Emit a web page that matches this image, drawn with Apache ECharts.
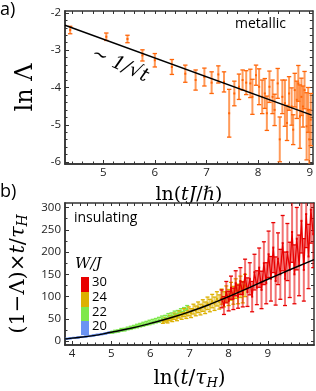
<!DOCTYPE html>
<html><head><meta charset="utf-8">
<script src="https://cdn.jsdelivr.net/npm/echarts@6/dist/echarts.min.js"></script>
<style>html,body{margin:0;padding:0;background:#fff}#c{width:316px;height:391px}</style>
</head><body><div id="c"></div>
<script>
// ---- Panel a (metallic) ----
const aX = [4.36,5.06,5.47,5.76,6.00,6.33,6.59,6.79,6.96,7.10,7.23,7.34,7.44,7.54,7.63,7.70,7.77,7.85,7.89,7.96,8.02,8.08,8.13,8.17,8.22,8.28,8.32,8.38,8.42,8.47,8.52,8.56,8.60,8.65,8.68,8.71,8.75,8.78,8.81,8.84,8.87,8.90,8.94,8.97,8.99,9.02];
const aY = [-2.46,-2.64,-2.70,-3.14,-3.27,-3.45,-3.63,-3.80,-3.72,-3.87,-3.65,-3.85,-4.69,-4.16,-3.98,-3.80,-3.87,-3.89,-4.25,-3.67,-3.98,-4.25,-4.16,-4.69,-3.98,-4.25,-4.60,-3.89,-5.39,-4.25,-4.42,-4.95,-4.16,-4.51,-5.13,-4.07,-4.33,-3.89,-4.78,-4.25,-4.51,-4.07,-5.04,-4.60,-5.39,-4.86];
const aErr = [0.10,0.10,0.10,0.15,0.18,0.20,0.23,0.27,0.24,0.29,0.23,0.27,0.64,0.33,0.34,0.27,0.32,0.38,0.47,0.27,0.48,0.45,0.40,0.46,0.42,0.45,0.42,0.40,0.60,0.45,0.62,0.47,0.45,0.50,0.40,0.45,0.50,0.48,0.85,0.50,0.55,0.50,0.90,0.60,0.80,0.70];
const aFitX = [4.26, 9.04];
const aFitY = [-2.33, -4.74];
const aXTicks = [5,6,7,8,9];
const aYTicks = [-6,-5,-4,-3,-2];

// ---- Panel b (insulating) ----
const b20X = [3.85,3.95,4.05,4.15,4.25,4.35,4.45,4.55,4.65,4.75,4.85,4.95,5.05,5.15,5.25,5.35];
const b20Y = [5.3,6.4,7.4,8.4,9.5,10.6,11.7,13,14.4,15.8,17.2,19,20.6,22.3,24.2,26];
const b20E = [1,1,1,1,1,1.2,1.2,1.2,1.3,1.3,1.4,1.4,1.5,1.5,1.6,1.6];
const b22X = [5.02,5.10,5.18,5.26,5.34,5.42,5.50,5.58,5.66,5.74,5.82,5.90,5.98,6.06,6.14,6.22,6.30,6.38,6.46,6.54,6.62,6.70,6.78,6.86,6.94];
const b22Y = [20,22,23,25.5,26,28.5,30,32,34,36,38,40,42,44,46,48,51,52,56,57,61,62,66,68,72];
const b22E = [2,2.5,2.5,3,3,3,3.5,3.5,4,4,4.5,4.5,5,5,5,5.5,5.5,6,6,6.5,6.5,7,7,7.5,8];
const b24X = [6.32,6.38,6.44,6.50,6.56,6.62,6.68,6.74,6.80,6.86,6.92,6.98,7.04,7.10,7.16,7.22,7.28,7.34,7.40,7.46,7.52,7.58,7.64,7.70,7.76,7.82,7.88,7.94,8.00,8.06,8.12,8.18,8.24,8.30,8.36,8.42];
const b24Y = [44,48,46,52,50,56,53,60,57,64,60,67,63,72,68,76,71,80,75,85,80,90,84,95,88,100,94,106,98,112,103,118,106,122,110,125];
const b24E = [4,5,5,6,6,7,7,8,8,9,9,10,10,11,11,12,12,13,13,14,14,15,15,16,16,17,17,18,18,20,20,22,22,24,24,25];
const b30X = [7.82,7.88,7.94,8.00,8.06,8.12,8.18,8.24,8.30,8.36,8.42,8.48,8.54,8.60,8.66,8.72,8.78,8.84,8.90,8.96,9.02,9.08,9.14,9.20,9.26,9.32,9.38,9.44,9.50,9.56,9.62,9.68,9.74,9.80,9.86,9.92,9.98,10.04,10.10,10.16];
const b30Y = [95,80,110,90,120,95,130,100,135,105,150,110,140,100,155,120,165,115,175,130,195,140,210,135,185,150,220,140,200,160,245,150,230,170,270,160,285,190,295,240];
const b30E = [20,20,24,22,26,24,28,26,30,28,34,32,36,34,40,38,44,42,48,46,52,50,56,54,58,56,62,60,64,62,68,66,70,68,72,70,75,72,75,75];
const bFitX = [3.82,4.0,4.5,5.0,5.5,6.0,6.5,7.0,7.5,8.0,8.5,9.0,9.5,10.18];
const bFitY = [5,7,12,20,29,40,52,66,82,100,119,139,158,183];
const bXTicks = [4,5,6,7,8,9];
const bYTicks = [0,50,100,150,200,250,300];
const legendLabels = ['30','24','22','20'];
const legendColors = ['#e80000','#dcb000','#7ee84a','#6b93f2'];

const aXMinor=[], aYMinor=[], bXMinor=[], bYMinor=[];
for (let v=4.4; v<=9.05; v+=0.2) aXMinor.push(+v.toFixed(2));
for (let v=-6; v<=-1.99; v+=0.2) aYMinor.push(+v.toFixed(2));
for (let v=3.8; v<=10.2; v+=0.2) bXMinor.push(+v.toFixed(2));
for (let v=0; v<=310; v+=25) bYMinor.push(v);

const zip3 = (x,y,e)=>x.map((v,i)=>[v,y[i],e[i]]);
const zip2 = (x,y)=>x.map((v,i)=>[v,y[i]]);

function errRender(barColor, capColor, capW, barW){
  return function(params, api){
    const x=api.value(0), y=api.value(1), e=api.value(2);
    const p=api.coord([x,y]), lo=api.coord([x,y-e]), hi=api.coord([x,y+e]);
    return {type:'group', children:[
      {type:'line', shape:{x1:p[0],y1:lo[1],x2:p[0],y2:hi[1]}, style:{stroke:barColor, lineWidth:barW}},
      {type:'line', shape:{x1:p[0]-capW,y1:lo[1],x2:p[0]+capW,y2:lo[1]}, style:{stroke:capColor,lineWidth:1.3}},
      {type:'line', shape:{x1:p[0]-capW,y1:hi[1],x2:p[0]+capW,y2:hi[1]}, style:{stroke:capColor,lineWidth:1.3}},
      {type:'rect', shape:{x:p[0]-1, y:p[1]-1, width:2, height:2}, style:{fill:capColor}}
    ]};
  };
}

const frameColor = '#333';
const tickFont = {fontFamily:'Open Sans', fontSize:11.5, color:'#222'};
const serif = 'DejaVu Serif';

function mkX(grid, pos, min, max, labels, ticks, len, showLabel, name, rich, gap){
  return {type:'value', gridIndex:grid, position:pos, min, max,
    axisLine:{show:true, onZero:false, lineStyle:{color:frameColor, width:1.5}},
    axisTick:{show:true, inside:true, length:len, customValues:ticks, lineStyle:{color:frameColor, width:1}},
    axisLabel:{show:showLabel, customValues:labels, margin:3, ...tickFont},
    splitLine:{show:false},
    name: name||'', nameLocation:'middle', nameGap:gap||22, nameTextStyle:{rich:rich||{}}};
}
function mkY(grid, pos, min, max, labels, ticks, len, showLabel, name, rich, gap){
  return {type:'value', gridIndex:grid, position:pos, min, max,
    axisLine:{show:true, onZero:false, lineStyle:{color:frameColor, width:1.5}},
    axisTick:{show:true, inside:true, length:len, customValues:ticks, lineStyle:{color:frameColor, width:1}},
    axisLabel:{show:showLabel, customValues:labels, margin:4, ...tickFont},
    splitLine:{show:false},
    name: name||'', nameLocation:'middle', nameGap:gap||30, nameRotate:90, nameTextStyle:{rich:rich||{}}};
}

const richA = {r:{fontFamily:serif, fontSize:19, color:'#000'}, i:{fontFamily:serif, fontStyle:'italic', fontSize:19, color:'#000'}};
const richBx = {r:{fontFamily:serif, fontSize:20, color:'#000'}, i:{fontFamily:serif, fontStyle:'italic', fontSize:20, color:'#000'}, s:{fontFamily:serif, fontStyle:'italic', fontSize:13, color:'#000', padding:[9,0,0,0]}};
const richBy = {r:{fontFamily:serif, fontSize:21, color:'#000'}, i:{fontFamily:serif, fontStyle:'italic', fontSize:21, color:'#000'}, s:{fontFamily:serif, fontStyle:'italic', fontSize:14, color:'#000', padding:[9,0,0,0]}};
const richLnL = {r:{fontFamily:serif, fontSize:24, color:'#000'}};

const chart = echarts.init(document.getElementById('c'), null, {renderer:'canvas'});
const aXmin=4.26, aXmax=9.06, aYmin=-6.05, aYmax=-1.95;
const bXmin=3.82, bXmax=10.18, bYmin=-8.5, bYmax=310;

chart.setOption({
  animation:false,
  grid:[
    {left:65, top:11, width:248, height:153},
    {left:65, top:203, width:249, height:150}
  ],
  xAxis:[
    mkX(0,'bottom',aXmin,aXmax,aXTicks,aXTicks,4,true,'{r|ln(}{i|tJ}{r|/}{i|ℏ}{r|)}',richA),
    mkX(0,'top',aXmin,aXmax,[],aXMinor,3,false),
    mkX(0,'bottom',aXmin,aXmax,[],aXMinor,2.5,false),
    mkX(1,'bottom',bXmin,bXmax,bXTicks,bXTicks,4,true,'{r|ln(}{i|t}{r|/}{i|τ}{s|H}{r|)}',richBx,23),
    mkX(1,'top',bXmin,bXmax,[],bXMinor,3,false),
    mkX(1,'bottom',bXmin,bXmax,[],bXMinor,2.5,false)
  ],
  yAxis:[
    mkY(0,'left',aYmin,aYmax,aYTicks,aYTicks,4,true,'{r|ln Λ}',richLnL,27),
    mkY(0,'right',aYmin,aYmax,[],aYMinor,3,false),
    mkY(0,'left',aYmin,aYmax,[],aYMinor,2.5,false),
    mkY(1,'left',bYmin,bYmax,bYTicks,bYTicks,4,true,'{r|(1−Λ)×}{i|t}{r|/}{i|τ}{s|H}',richBy,29),
    mkY(1,'right',bYmin,bYmax,[],bYMinor,3,false),
    mkY(1,'left',bYmin,bYmax,[],bYMinor,2.5,false)
  ],
  series:[
    {type:'custom', xAxisIndex:0, yAxisIndex:0, clip:true, z:2,
     renderItem: errRender('rgba(255,115,25,0.72)','#ff6508',2.2,2),
     encode:{x:0,y:1}, data: zip3(aX,aY,aErr)},
    {type:'line', xAxisIndex:0, yAxisIndex:0, symbol:'none', z:5,
     lineStyle:{color:'#000', width:1.5}, data: zip2(aFitX,aFitY)},

    {type:'line', xAxisIndex:3, yAxisIndex:3, symbol:'none', z:2, lineStyle:{color:legendColors[3], width:1.5}, data: zip2(b20X,b20Y)},
    {type:'custom', xAxisIndex:3, yAxisIndex:3, clip:true, z:2, renderItem: errRender('rgba(107,147,242,0.6)',legendColors[3],2,2), encode:{x:0,y:1}, data: zip3(b20X,b20Y,b20E)},
    {type:'line', xAxisIndex:3, yAxisIndex:3, symbol:'none', z:3, lineStyle:{color:legendColors[2], width:1.2}, data: zip2(b22X,b22Y)},
    {type:'custom', xAxisIndex:3, yAxisIndex:3, clip:true, z:3, renderItem: errRender('rgba(126,232,74,0.6)',legendColors[2],2,2), encode:{x:0,y:1}, data: zip3(b22X,b22Y,b22E)},
    {type:'line', xAxisIndex:3, yAxisIndex:3, symbol:'none', z:3, lineStyle:{color:legendColors[1], width:1.2}, data: zip2(b24X,b24Y)},
    {type:'custom', xAxisIndex:3, yAxisIndex:3, clip:true, z:3, renderItem: errRender('rgba(220,176,0,0.6)',legendColors[1],2,2), encode:{x:0,y:1}, data: zip3(b24X,b24Y,b24E)},
    {type:'line', xAxisIndex:3, yAxisIndex:3, symbol:'none', z:4, lineStyle:{color:legendColors[0], width:1.3}, data: zip2(b30X,b30Y)},
    {type:'custom', xAxisIndex:3, yAxisIndex:3, clip:true, z:4, renderItem: errRender('rgba(232,0,0,0.55)',legendColors[0],2,2), encode:{x:0,y:1}, data: zip3(b30X,b30Y,b30E)},
    {type:'line', xAxisIndex:3, yAxisIndex:3, symbol:'none', smooth:true, z:6, lineStyle:{color:'#000', width:1.4}, data: zip2(bFitX,bFitY)}
  ],
  graphic:[
    {type:'text', left:0, top:1, style:{text:'a)', font:'18px "Open Sans"', fill:'#000'}},
    {type:'text', left:0, top:183, style:{text:'b)', font:'18px "Open Sans"', fill:'#000'}},
    {type:'text', left:235, top:17, style:{text:'metallic', font:'14px "Open Sans"', fill:'#000'}},
    {type:'text', left:74, top:211, style:{text:'insulating', font:'14px "Open Sans"', fill:'#000'}},
    {type:'text', x:120, y:65, rotation:-0.42, style:{text:'∼ 1/√t', font:'italic 19px "DejaVu Serif"', fill:'#000', align:'center', verticalAlign:'middle'}},
    {type:'text', left:75, top:257, style:{text:'W/J', font:'italic 15px "DejaVu Serif"', fill:'#000'}},
    {type:'rect', shape:{x:81, y:277, width:8, height:15}, style:{fill:legendColors[0]}},
    {type:'rect', shape:{x:81, y:292, width:8, height:15}, style:{fill:legendColors[1]}},
    {type:'rect', shape:{x:81, y:307, width:8, height:14}, style:{fill:legendColors[2]}},
    {type:'rect', shape:{x:81, y:321, width:8, height:14}, style:{fill:legendColors[3]}},
    {type:'text', left:92, top:276, style:{text:legendLabels[0], font:'13px "Open Sans"', fill:'#000'}},
    {type:'text', left:92, top:291, style:{text:legendLabels[1], font:'13px "Open Sans"', fill:'#000'}},
    {type:'text', left:92, top:306, style:{text:legendLabels[2], font:'13px "Open Sans"', fill:'#000'}},
    {type:'text', left:92, top:320, style:{text:legendLabels[3], font:'13px "Open Sans"', fill:'#000'}}
  ]
});
</script>
</body></html>
